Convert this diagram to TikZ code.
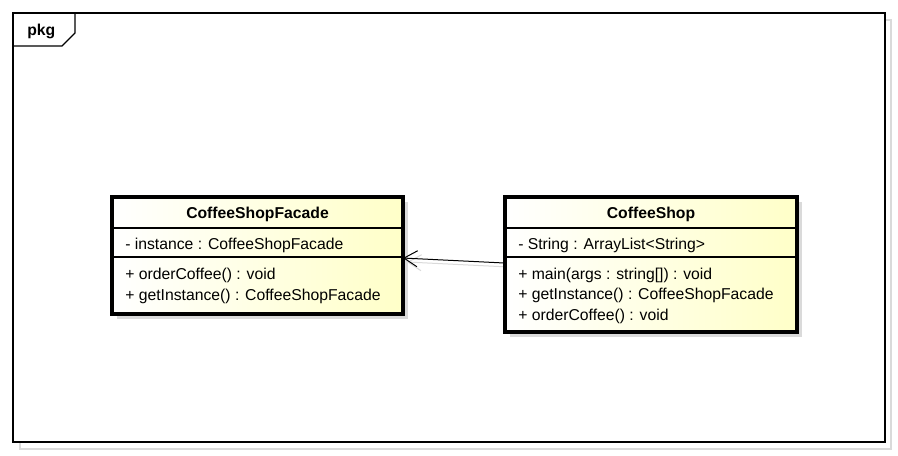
\documentclass[tikz,border=0pt]{standalone}
\usepackage{fontspec}
\setmainfont{Liberation Sans}
\usetikzlibrary{arrows.meta}
\definecolor{classyellow}{RGB}{255,255,200}
\definecolor{shadowgray}{RGB}{218,218,218}
\begin{document}
\begin{tikzpicture}[x=0.75pt,y=-0.75pt,
  classbox/.style={draw=black, line width=2.6pt, left color=white, right color=classyellow, inner sep=0pt, outer sep=0pt},
  shadowrect/.style={fill=shadowgray, draw=none},
  divider/.style={draw=black, line width=0.8pt},
  txt/.style={anchor=base west, inner sep=0pt, font=\fontsize{11.8}{14}\selectfont},
  ttl/.style={anchor=base, inner sep=0pt, font=\fontsize{11.8}{14}\selectfont\bfseries},
  assoc/.style={line width=0.75pt, -{Straight Barb[length=10pt,width=12pt,line width=0.75pt]}}
]
\useasboundingbox (0,0) rectangle (898,456);
\fill[white] (0,0) rectangle (898,456);

% package frame with shadow
\draw[shadowgray, line width=0.9pt] (20,20) rectangle (891,449);
\draw[black, line width=0.9pt, fill=white] (13,13) rectangle (885,442);
\draw[black, line width=0.9pt] (75,13) -- (75,33) -- (62,46) -- (13,46);
\node[anchor=base west, inner sep=0pt, font=\fontsize{11.8}{14}\selectfont\bfseries] (pkg) at (27,36) {pkg};

% shadows of classes
\fill[shadowrect] (117,202) rectangle (408,319);
\fill[shadowrect] (510,202) rectangle (802,337);

% shadow of connector
\draw[shadowgray, line width=0.75pt, -{Straight Barb[length=10pt,width=12pt,line width=0.75pt]}] (509,267) -- (407,262);

% CoffeeShopFacade
\node[classbox, minimum width=218.25pt, minimum height=87.75pt] (facade) at (257.5,255.5) {};
\draw[divider] (112,228) -- (403,228);
\draw[divider] (112,257) -- (403,257);
\node[ttl] (facadeTitle) at (257.5,218) {CoffeeShopFacade};
\node[txt] (facadeA1) at (125,249) {- instance : CoffeeShopFacade};
\node[txt] (facadeM1) at (125,279) {+ orderCoffee() : void};
\node[txt] (facadeM2) at (125,300) {+ getInstance() : CoffeeShopFacade};

% CoffeeShop
\node[classbox, minimum width=219pt, minimum height=101.25pt] (shop) at (651,264.5) {};
\draw[divider] (505,228) -- (797,228);
\draw[divider] (505,257) -- (797,257);
\node[ttl] (shopTitle) at (651,218) {CoffeeShop};
\node[txt] (shopA1) at (518,249) {- String : ArrayList<String>};
\node[txt] (shopM1) at (518,279) {+ main(args : string[]) : void};
\node[txt] (shopM2) at (518,299.5) {+ getInstance() : CoffeeShopFacade};
\node[txt] (shopM3) at (518,320) {+ orderCoffee() : void};

% association
\draw[assoc] ([yshift=1.1pt]shop.west) -- ([yshift=-1.9pt]facade.east);
\end{tikzpicture}
\end{document}
